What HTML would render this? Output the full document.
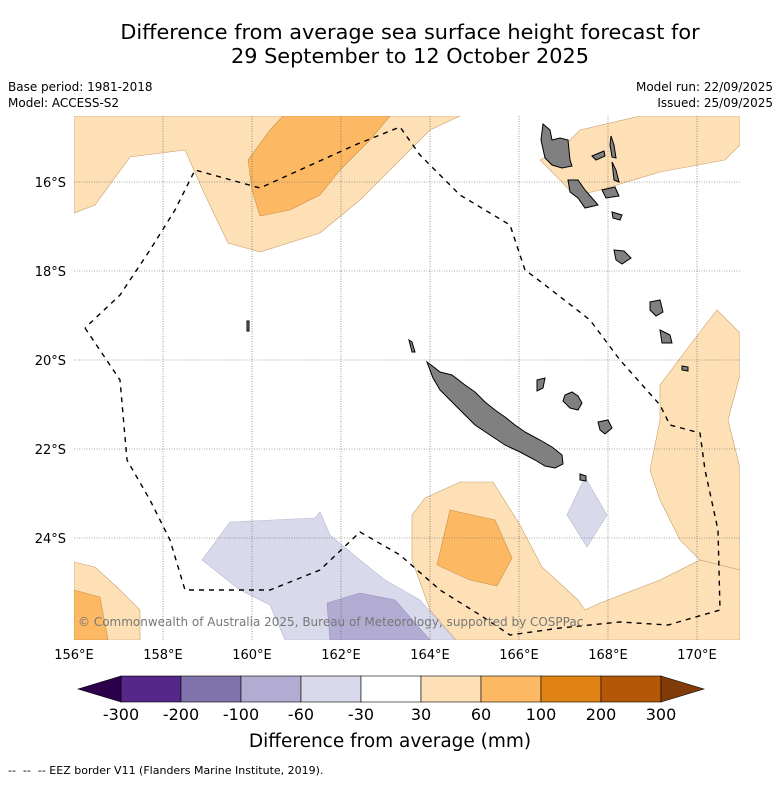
<!DOCTYPE html>
<html><head><meta charset="utf-8"><style>
body{margin:0;background:#fff;font-family:"DejaVu Sans","Liberation Sans",sans-serif;}
</style></head><body>
<svg width="781" height="781" viewBox="0 0 781 781" xmlns="http://www.w3.org/2000/svg" font-family="DejaVu Sans, Liberation Sans, sans-serif">
<text x="410" y="39" font-size="20.8" text-anchor="middle">Difference from average sea surface height forecast for</text>
<text x="410" y="63" font-size="20.8" text-anchor="middle">29 September to 12 October 2025</text>
<text x="8" y="91" font-size="12">Base period: 1981-2018</text>
<text x="8" y="107" font-size="12">Model: ACCESS-S2</text>
<text x="773" y="91" font-size="12" text-anchor="end">Model run: 22/09/2025</text>
<text x="773" y="107" font-size="12" text-anchor="end">Issued: 25/09/2025</text>
<defs><clipPath id="mc"><rect x="74" y="116" width="666" height="524"/></clipPath></defs>
<g clip-path="url(#mc)">
<rect x="74" y="116" width="666" height="524" fill="#fff"/>
<g stroke="#c9a070" stroke-width="0.6" fill="#fee0b6">
<polygon points="74,116 460,116 430,130 400,160 360,200 320,233 260,252 228,243 205,195 185,150 130,157 95,205 74,213"/>
<polygon points="540,160 560,150 580,130 640,116 740,116 740,145 725,160 660,172 600,190 575,196 560,180"/>
<polygon points="717,310 740,333 740,375 728,420 740,468 740,570 700,560 680,540 660,500 650,470 660,420 660,385 690,345"/>
<polygon points="412,515 425,498 460,482 493,482 520,525 542,567 578,600 585,610 600,603 660,580 700,560 740,570 740,640 456,640 430,610 412,560"/>
<polygon points="74,562 95,567 120,590 140,610 140,640 74,640"/>
</g>
<g stroke="#c9904a" stroke-width="0.6" fill="#fdb863">
<polygon points="283,116 390,116 370,140 340,170 320,195 290,210 260,216 252,190 248,160 270,130"/>
<polygon points="450,510 495,520 512,558 497,586 470,580 437,565"/>
<polygon points="74,590 100,597 108,640 74,640"/>
</g>
<g stroke="#b8b8d0" stroke-width="0.6" fill="#d8daeb">
<polygon points="202,560 230,522 315,518 320,512 330,535 360,560 385,580 420,600 455,640 285,640 270,605 240,590"/>
<polygon points="567,515 585,477 607,515 587,547"/>
</g>
<polygon points="327,603 360,593 395,600 430,640 330,640" fill="#b2abd2" stroke="#9a90c0" stroke-width="0.6"/>
<g stroke="#555" stroke-width="0.6" stroke-dasharray="1,1.5">
<line x1="163" y1="116" x2="163" y2="640"/><line x1="252" y1="116" x2="252" y2="640"/><line x1="341" y1="116" x2="341" y2="640"/><line x1="430" y1="116" x2="430" y2="640"/><line x1="519" y1="116" x2="519" y2="640"/><line x1="608" y1="116" x2="608" y2="640"/><line x1="697" y1="116" x2="697" y2="640"/>
<line x1="74" y1="182" x2="740" y2="182"/><line x1="74" y1="271" x2="740" y2="271"/><line x1="74" y1="360" x2="740" y2="360"/><line x1="74" y1="449" x2="740" y2="449"/><line x1="74" y1="538" x2="740" y2="538"/>
</g>
<g fill="#808080" stroke="#000" stroke-width="1">
<polygon points="427,362 435,368 440,372 452,375 465,385 475,392 485,402 495,410 505,417 515,425 525,432 540,440 552,447 562,455 563,464 555,468 545,466 535,460 520,452 505,445 490,435 475,425 462,412 450,400 440,390 433,378"/>
<polygon points="565,395 572,392 578,396 582,403 578,410 570,408 563,401"/>
<polygon points="598,422 608,420 612,428 605,434 600,430"/>
<polygon points="537,380 545,378 543,388 537,391"/>
<polygon points="543,124 550,130 552,140 560,138 568,140 570,160 572,166 562,168 552,165 545,158 541,140"/>
<polygon points="568,180 578,180 585,190 592,198 598,205 585,208 578,198 570,192"/>
<polygon points="592,156 604,151 605,156 596,160"/>
<polygon points="611,136 614,145 616,158 612,157 610,145"/>
<polygon points="612,162 616,170 619,182 614,180"/>
<polygon points="602,190 615,187 619,196 606,198"/>
<polygon points="612,212 622,215 620,220 613,218"/>
<polygon points="614,250 624,251 631,258 622,264 616,260"/>
<polygon points="650,302 660,300 663,312 656,316 650,310"/>
<polygon points="660,330 670,335 672,343 662,343"/>
<polygon points="682,366 688,367 688,371 682,370"/>
<polygon points="580,474 586,476 586,481 580,480"/>
<polygon points="247,321 249,321 249,331 247,331"/>
<polygon points="409,340 412,342 415,352 412,352"/>
</g>
<polyline points="85,328 120,380 127,460 150,500 170,540 185,590 270,590 320,570 360,532 400,555 440,590 480,615 510,635 560,628 620,622 668,625 720,610 718,530 705,470 700,433 670,425 660,405 620,360 590,320 545,285 525,270 510,225 460,195 420,155 400,127 355,145 260,188 195,170 175,210 150,250 120,295 85,328" fill="none" stroke="#000" stroke-width="1.4" stroke-dasharray="5,5"/>
<text x="78" y="626" font-size="12" fill="#777">© Commonwealth of Australia 2025, Bureau of Meteorology, supported by COSPPac</text>
</g>
<g font-size="13">
<text x="66" y="187" text-anchor="end">16°S</text><text x="66" y="276" text-anchor="end">18°S</text><text x="66" y="365" text-anchor="end">20°S</text><text x="66" y="454" text-anchor="end">22°S</text><text x="66" y="543" text-anchor="end">24°S</text>
</g>
<g font-size="13" text-anchor="middle">
<text x="74" y="659">156°E</text><text x="163" y="659">158°E</text><text x="252" y="659">160°E</text><text x="341" y="659">162°E</text><text x="430" y="659">164°E</text><text x="519" y="659">166°E</text><text x="608" y="659">168°E</text><text x="697" y="659">170°E</text>
</g>
<g id="cbar"></g>
<text x="390" y="747" font-size="18.5" text-anchor="middle">Difference from average (mm)</text>
<text x="8" y="774" font-size="11" xml:space="preserve">--  --  -- EEZ border V11 (Flanders Marine Institute, 2019).</text>
</svg>
<script>
const bounds=["-300","-200","-100","-60","-30","30","60","100","200","300"];
const colors=["#542788","#8073ac","#b2abd2","#d8daeb","#ffffff","#fee0b6","#fdb863","#e08214","#b35806"];
const extColors=["#2d004b","#7f3b08"];
const g=document.getElementById('cbar');const ns="http://www.w3.org/2000/svg";
const x0=121,x1=661,y0=676,y1=702,w=(x1-x0)/colors.length;
function mk(t,a){const e=document.createElementNS(ns,t);for(const k in a)e.setAttribute(k,a[k]);g.appendChild(e);return e;}
colors.forEach((c,i)=>{const r=mk('rect',{x:x0+i*w,y:y0,width:w,height:y1-y0,fill:c,stroke:'#000','stroke-width':0.6});

});
const lt=mk('polygon',{points:`78,${(y0+y1)/2} ${x0},${y0} ${x0},${y1}`,fill:extColors[0],stroke:'#000','stroke-width':0.6});


const rt=mk('polygon',{points:`704,${(y0+y1)/2} ${x1},${y0} ${x1},${y1}`,fill:extColors[1],stroke:'#000','stroke-width':0.6});


bounds.forEach((b,i)=>{const t=mk('text',{x:x0+i*w,y:720,'font-size':16,'text-anchor':'middle'});t.textContent=b;

});
</script>
</body></html>
